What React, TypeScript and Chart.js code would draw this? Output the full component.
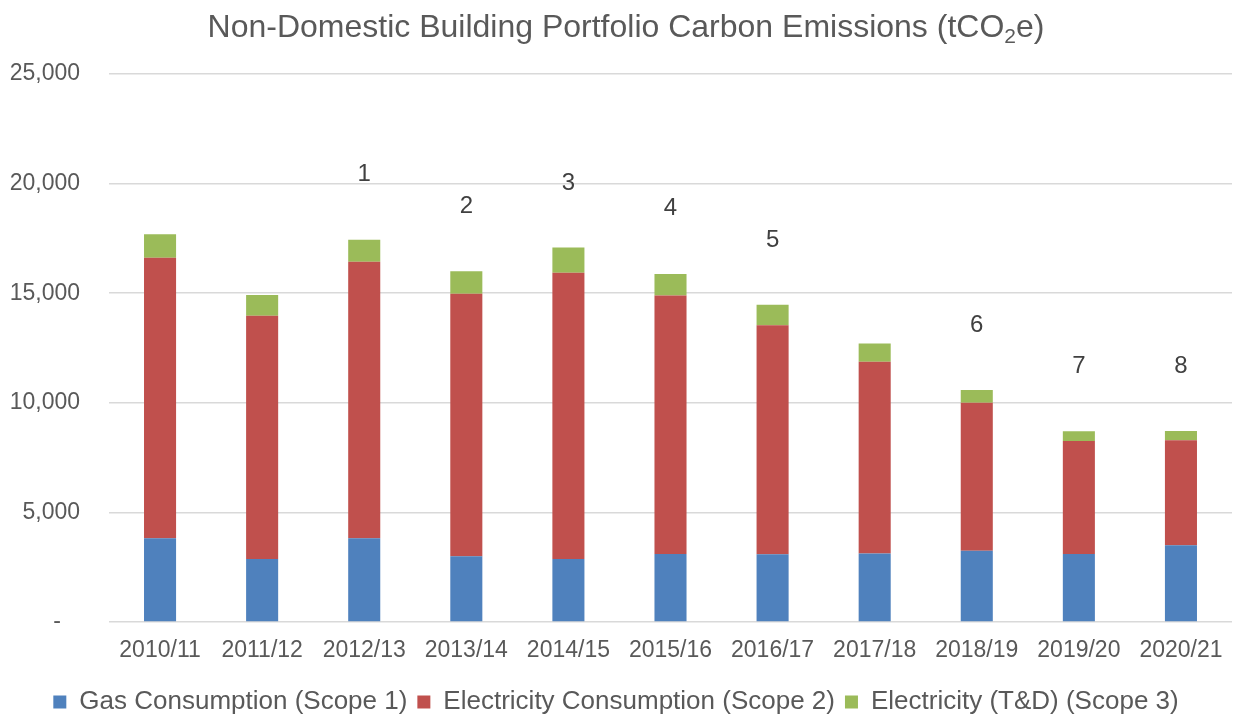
import React, { useEffect, useRef } from 'react';
import { Chart, registerables } from 'chart.js';

Chart.register(...registerables);

const categories = ['2010/11', '2011/12', '2012/13', '2013/14', '2014/15', '2015/16', '2016/17', '2017/18', '2018/19', '2019/20', '2020/21'];
const gasScope1 = [3820, 2870, 3820, 3000, 2870, 3100, 3090, 3130, 3250, 3100, 3500];
const electricityScope2 = [12800, 11100, 12620, 11980, 13060, 11790, 10450, 8740, 6750, 5160, 4790];
const electricityTDScope3 = [1070, 945, 1000, 1020, 1160, 990, 930, 840, 580, 440, 420];
const noteLabels = ['', '', '1', '2', '3', '4', '5', '', '6', '7', '8'];
const noteValues = [null, null, 20400, 18950, 20000, 18850, 17400, null, 13550, 11650, 11650];
const seriesNames = ['Gas Consumption (Scope 1)', 'Electricity Consumption (Scope 2)', 'Electricity (T&D) (Scope 3)'];
const seriesColors = ['#4F81BD', '#C0504D', '#9BBB59'];
const titleParts = ['Non-Domestic Building Portfolio Carbon Emissions (tCO', '2', 'e)'];

const FONT = '"Liberation Sans", Arial, sans-serif';
const TEXT = '#595959';

const titlePlugin = {
  id: 'subTitle',
  afterDraw(chart: any) {
    const ctx = chart.ctx;
    ctx.save();
    ctx.fillStyle = TEXT;
    ctx.textBaseline = 'alphabetic';
    ctx.textAlign = 'left';
    const big = `32px ${FONT}`;
    const small = `21px ${FONT}`;
    ctx.font = big;
    const w0 = ctx.measureText(titleParts[0]).width;
    const w2 = ctx.measureText(titleParts[2]).width;
    ctx.font = small;
    const w1 = ctx.measureText(titleParts[1]).width;
    const total = w0 + w1 + w2;
    let x = 626 - total / 2;
    const base = 37;
    ctx.font = big;
    ctx.fillText(titleParts[0], x, base);
    x += w0;
    ctx.font = small;
    ctx.fillText(titleParts[1], x, base + 6);
    x += w1;
    ctx.font = big;
    ctx.fillText(titleParts[2], x, base);
    ctx.restore();
  },
};

const notesPlugin = {
  id: 'notes',
  afterDatasetsDraw(chart: any) {
    const ctx = chart.ctx;
    const xs = chart.scales.x;
    const ys = chart.scales.y;
    ctx.save();
    ctx.fillStyle = '#404040';
    ctx.font = `24px ${FONT}`;
    ctx.textAlign = 'center';
    ctx.textBaseline = 'middle';
    noteLabels.forEach((lab, i) => {
      const v = noteValues[i];
      if (!lab || v == null) return;
      ctx.fillText(lab, xs.getPixelForValue(i), ys.getPixelForValue(v));
    });
    ctx.restore();
  },
};

export default function App() {
  const ref = useRef<HTMLCanvasElement>(null);
  useEffect(() => {
    document.body.style.margin = '0';
    const canvas = ref.current!;
    const seriesData = [gasScope1, electricityScope2, electricityTDScope3];
    const chart = new Chart(canvas, {
      type: 'bar',
      data: {
        labels: categories,
        datasets: seriesData.map((d, i) => ({
          label: seriesNames[i],
          data: d,
          backgroundColor: seriesColors[i],
          borderWidth: 0,
          barPercentage: 1,
          categoryPercentage: 0.314,
        })),
      },
      options: {
        responsive: false,
        animation: false,
        layout: { padding: { top: 74, right: 14, bottom: 0, left: 0 } },
        plugins: {
          title: { display: false },
          tooltip: { enabled: false },
          legend: {
            position: 'bottom',
            maxHeight: 39,
            labels: {
              color: TEXT,
              font: { family: FONT, size: 26 },
              boxWidth: 13,
              boxHeight: 13,
              padding: 10,
            },
          },
        },
        scales: {
          x: {
            stacked: true,
            afterFit(scale: any) { scale.height = 57; },
            grid: { display: false },
            border: { display: false },
            ticks: { color: TEXT, font: { family: FONT, size: 23 }, padding: 7, maxRotation: 0, autoSkip: false },
          },
          y: {
            stacked: true,
            min: 0,
            max: 25000,
            afterFit(scale: any) { scale.width = 109; },
            grid: { color: '#D9D9D9', lineWidth: 1.5, drawTicks: false },
            border: { display: false },
            ticks: {
              stepSize: 5000,
              color: TEXT,
              font: { family: FONT, size: 23 },
              padding: 29,
              callback: (v: any) => (Number(v) === 0 ? '-   ' : Number(v).toLocaleString('en-US')),
            },
          },
        },
      },
      plugins: [titlePlugin, notesPlugin],
    });
    return () => chart.destroy();
  }, []);
  return (
    <div style={{ width: 1246, height: 718 }}>
      <canvas ref={ref} width={1246} height={718} style={{ display: 'block' }} />
    </div>
  );
}
